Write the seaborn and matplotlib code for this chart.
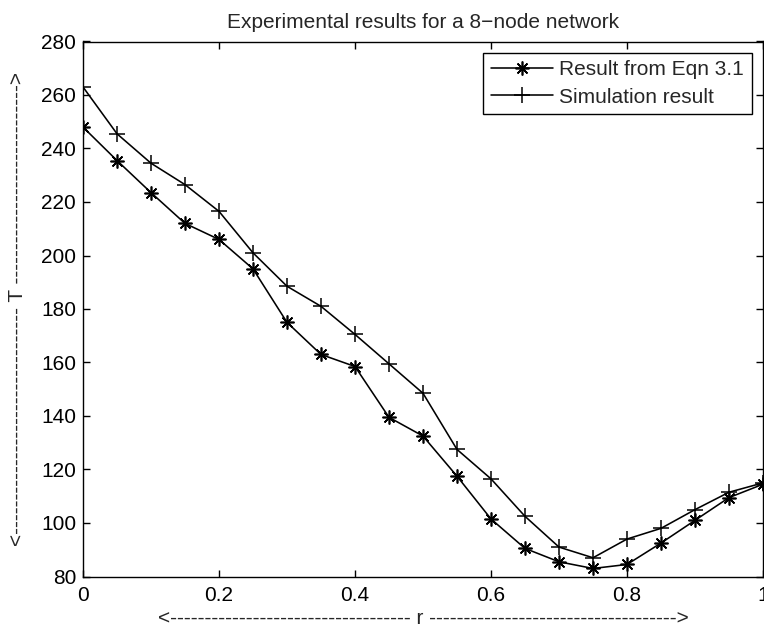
import matplotlib
matplotlib.use("Agg")
import matplotlib.pyplot as plt
import seaborn as sns
import pandas as pd

# ---- data ----
r_values = [0.0, 0.05, 0.1, 0.15, 0.2, 0.25, 0.3, 0.35, 0.4, 0.45, 0.5,
            0.55, 0.6, 0.65, 0.7, 0.75, 0.8, 0.85, 0.9, 0.95, 1.0]
eqn_values = [248, 235.5, 223.5, 212, 206, 195, 175, 163, 158.5, 139.5, 132.5,
              117.5, 101.5, 90.5, 85.5, 83, 84.5, 92.5, 101, 109.5, 114.5]
sim_values = [263, 245.5, 234.5, 226.5, 216.5, 201, 188.5, 181, 170.5, 159.5, 148.5,
              127.5, 116.5, 102.5, 91, 87, 94, 98, 105, 111.5, 115]
series_names = ["Result from Eqn 3.1", "Simulation result"]
x_ticks = [0, 0.2, 0.4, 0.6, 0.8, 1.0]
x_tick_labels = ["0", "0.2", "0.4", "0.6", "0.8", "1"]
y_ticks = [80, 100, 120, 140, 160, 180, 200, 220, 240, 260, 280]
title_text = "Experimental results for a 8\u2212node network"
x_label = "<" + "-" * 35 + " r " + "-" * 36 + ">"
y_label = "<" + "-" * 33 + " T " + "-" * 29 + ">"

FS = 15

sns.set_style("white")
plt.rcParams["font.family"] = ["Liberation Sans", "DejaVu Sans"]
plt.rcParams["font.size"] = FS

fig = plt.figure(figsize=(7.64, 6.31), dpi=100)
ax = fig.add_axes([83 / 764, 1 - 576.5 / 631, (763 - 83) / 764, (576.5 - 41.5) / 631])

df_eqn = pd.DataFrame({"r": r_values, "T": eqn_values})
df_sim = pd.DataFrame({"r": r_values, "T": sim_values})

sns.lineplot(data=df_eqn, x="r", y="T", ax=ax, color="black", linewidth=1.15,
             marker=(8, 2, 0), markersize=10, markeredgewidth=1.2,
             markeredgecolor="black", label=series_names[0])
sns.lineplot(data=df_sim, x="r", y="T", ax=ax, color="black", linewidth=1.15,
             marker="+", markersize=12, markeredgewidth=1.1,
             markeredgecolor="black", label=series_names[1])

ax.set_xlim(0, 1)
ax.set_ylim(80, 280)
ax.set_xticks(x_ticks)
ax.set_xticklabels(x_tick_labels)
ax.set_yticks(y_ticks)
ax.tick_params(direction="in", length=5, width=1, top=True, right=True,
               bottom=True, left=True, labelsize=FS, colors="black")
ax.tick_params(axis="x", pad=7)
ax.tick_params(axis="y", pad=5)
for s in ax.spines.values():
    s.set_color("black")
    s.set_linewidth(1.0)

ax.set_title(title_text, fontsize=FS, pad=10)
ax.set_xlabel(x_label, fontsize=FS, labelpad=3)
ax.set_ylabel(y_label, fontsize=FS, labelpad=10)

leg = ax.legend(loc="upper right", fontsize=FS, frameon=True, fancybox=False,
                edgecolor="black", framealpha=1, borderaxespad=0.55,
                handlelength=3.0, handletextpad=0.3, labelspacing=0.4,
                borderpad=0.35)
leg.get_frame().set_linewidth(1.0)

fig.savefig("out.png", dpi=100)
